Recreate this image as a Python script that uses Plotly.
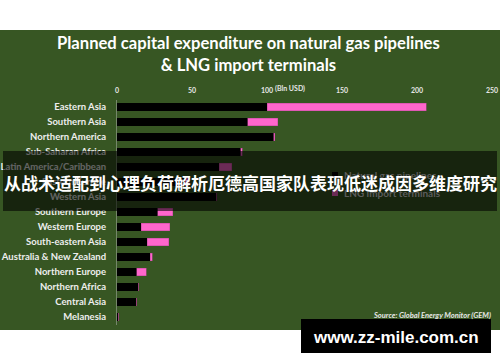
import plotly.graph_objects as go

categories = ["Eastern Asia", "Southern Asia", "Northern America", "Sub-Saharan Africa",
              "Latin America/Caribbean", "Eastern Europe", "Western Asia", "Southern Europe",
              "Western Europe", "South-eastern Asia", "Australia & New Zealand",
              "Northern Europe", "Northern Africa", "Central Asia", "Melanesia"]
pipelines = [100, 87, 104.5, 82.5, 68, 45, 66.5, 27, 16, 20, 22, 13, 14, 12.7, 0.8]
lng = [106, 20, 0.5, 1, 8.5, 3, 0, 10, 19, 14.5, 1.5, 6.5, 0, 0, 0]
tick_vals = [0, 50, 100, 150, 200, 250]
tick_text = ["0", "50", "100", "150", "200", "250"]

W, H = 500, 362
def px(x):
    return x / W
def py(y):
    return 1 - y / H

fig = go.Figure()
fig.add_trace(go.Bar(y=categories, x=pipelines, orientation="h", name="Natural gas pipelines",
                     marker=dict(color="#000000", line=dict(color="#000000", width=0.5))))
fig.add_trace(go.Bar(y=categories, x=lng, orientation="h", name="LNG import terminals",
                     marker=dict(color="#ff66cc", line=dict(color="#c04a9a", width=0.5))))

fig.update_layout(
    width=W, height=H, margin=dict(l=0, r=0, t=0, b=0),
    paper_bgcolor="#ffffff", plot_bgcolor="rgba(0,0,0,0)",
    barmode="stack", bargap=0.52, showlegend=False,
    xaxis=dict(domain=[px(117), px(492)], range=[0, 250], side="top", automargin=False,
               tickvals=tick_vals, ticktext=tick_text, showgrid=False, zeroline=False,
               showline=False, ticks="", ticklabelstandoff=4,
               tickfont=dict(family="Lato", size=7, color="#e6e6e6", weight="bold")),
    yaxis=dict(domain=[py(324.5), py(99.5)], range=[14.5, -0.5], type="category",
               automargin=False,
               showgrid=False, zeroline=False, showline=True, linecolor="#75866a", linewidth=1,
               ticks="", ticklabelstandoff=8,
               tickfont=dict(family="Lato", size=9.5, color="#eeeeee", weight="bold")),
    font=dict(family="Lato"),
)

shapes = [
    dict(type="rect", xref="paper", yref="paper", x0=0, x1=1, y0=py(330), y1=py(30),
         fillcolor="#375623", line=dict(width=0), layer="below"),
    dict(type="rect", xref="paper", yref="paper", x0=px(3), x1=px(497), y0=py(211), y1=py(151),
         fillcolor="rgba(0,0,0,0.58)", line=dict(width=0), layer="above"),
    dict(type="rect", xref="paper", yref="paper", x0=px(301), x1=px(491), y0=py(353), y1=py(319),
         fillcolor="#000000", line=dict(width=0), layer="above"),
    dict(type="rect", xref="paper", yref="paper", x0=px(332), x1=px(338), y0=py(178), y1=py(172),
         fillcolor="#000000", line=dict(width=0), layer="above"),
    dict(type="rect", xref="paper", yref="paper", x0=px(332), x1=px(338), y0=py(196), y1=py(190),
         fillcolor="#6b2b56", line=dict(width=0), layer="above"),
]
fig.update_layout(shapes=shapes)

annotations = [
    dict(text="<b>Planned capital expenditure on natural gas pipelines<br>& LNG import terminals</b>",
         x=px(248), y=py(54), xref="paper", yref="paper", showarrow=False,
         font=dict(family="Lato", size=16.6, color="#ffffff"), align="center", yanchor="middle"),
    dict(text="<b>(Bln USD)</b>", x=px(273), y=py(88), xref="paper", yref="paper", showarrow=False,
         xanchor="left", yanchor="middle", font=dict(family="Lato", size=7, color="#e6e6e6")),
    dict(text="<b><i>Source: Global Energy Monitor (GEM)</i></b>", x=px(493), y=py(315),
         xref="paper", yref="paper", showarrow=False, xanchor="right", yanchor="middle",
         font=dict(family="Lato", size=7.5, color="#e6e6e6")),
    dict(text="<b>Natural gas pipelines</b>", x=px(342), y=py(175), xref="paper", yref="paper",
         showarrow=False, xanchor="left", yanchor="middle",
         font=dict(family="Lato", size=10, color="#5c5c5c")),
    dict(text="<b>LNG import terminals</b>", x=px(342), y=py(193), xref="paper", yref="paper",
         showarrow=False, xanchor="left", yanchor="middle",
         font=dict(family="Lato", size=10, color="#5c5c5c")),
    dict(text="<b>从战术适配到心理负荷解析厄德高国家队表现低迷成因多维度研究</b>", x=px(250), y=py(182),
         xref="paper", yref="paper", showarrow=False, xanchor="center", yanchor="middle",
         font=dict(family="Noto Sans CJK SC", size=17, color="#ffffff")),
    dict(text="<b>www.zz-mile.com.cn</b>", x=px(396), y=py(337), xref="paper", yref="paper",
         showarrow=False, xanchor="center", yanchor="middle",
         font=dict(family="Liberation Sans", size=17, color="#ffffff")),
]
fig.update_layout(annotations=annotations)

fig.write_html("out.html")
